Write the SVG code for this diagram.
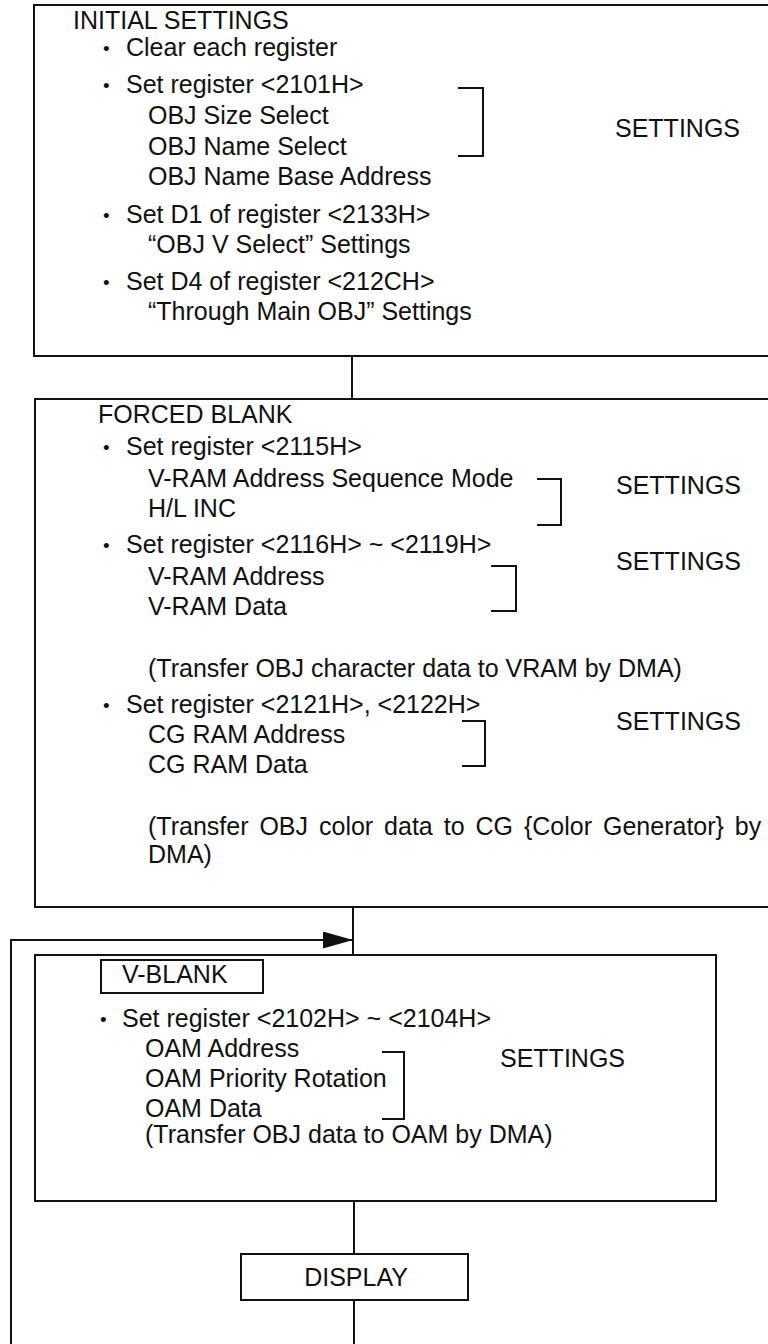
<svg xmlns="http://www.w3.org/2000/svg" width="768" height="1344" viewBox="0 0 768 1344">
<style>
  text { font-family: "Liberation Sans", Arial, sans-serif; font-size: 25px; fill: #111; }
  text.b { font-size: 19px; }
  .box { fill: none; stroke: #111; stroke-width: 2; }
  .ln { fill: none; stroke: #111; stroke-width: 2; }
  .br { fill: none; stroke: #111; stroke-width: 2; }
  .c { text-anchor: middle; }
</style>
<defs>
  <marker id="arr" markerWidth="30" markerHeight="18" refX="30" refY="8.5" orient="auto" markerUnits="userSpaceOnUse">
    <path d="M0,0 L30,8.5 L0,17 Z" fill="#111"/>
  </marker>
</defs>
<rect width="768" height="1344" fill="#fff"/>

<g id="connectors">
  <line class="ln" x1="352" y1="356" x2="352" y2="399"/>
  <line class="ln" x1="353" y1="907" x2="353" y2="955"/>
  <polyline class="ln" points="11,1344 11,940 353,940" marker-end="url(#arr)"/>
  <line class="ln" x1="354" y1="1201" x2="354" y2="1254"/>
  <line class="ln" x1="354" y1="1300" x2="354" y2="1344"/>
</g>

<g id="initial-settings">
  <rect class="box" x="34" y="5" width="780" height="351"/>
  <text x="73" y="29">INITIAL SETTINGS</text>
  <text class="b" x="103" y="55">•</text><text x="126" y="56">Clear each register</text>
  <text class="b" x="103" y="92">•</text><text x="126" y="93">Set register &lt;2101H&gt;</text>
  <text x="148" y="124">OBJ Size Select</text>
  <text x="148" y="155">OBJ Name Select</text>
  <text x="148" y="185">OBJ Name Base Address</text>
  <polyline class="br" points="458,88 483,88 483,156 458,156"/>
  <text x="615" y="137">SETTINGS</text>
  <text class="b" x="103" y="222">•</text><text x="126" y="223">Set D1 of register &lt;2133H&gt;</text>
  <text x="148" y="253">“OBJ V Select” Settings</text>
  <text class="b" x="103" y="289">•</text><text x="126" y="290">Set D4 of register &lt;212CH&gt;</text>
  <text x="148" y="320">“Through Main OBJ” Settings</text>
</g>

<g id="forced-blank">
  <rect class="box" x="35" y="399" width="780" height="508"/>
  <text x="98" y="423">FORCED BLANK</text>
  <text class="b" x="103" y="454">•</text><text x="126" y="455">Set register &lt;2115H&gt;</text>
  <text x="148" y="487">V-RAM Address Sequence Mode</text>
  <text x="148" y="517">H/L INC</text>
  <polyline class="br" points="537,479 561,479 561,525 537,525"/>
  <text x="616" y="494">SETTINGS</text>
  <text class="b" x="103" y="552">•</text><text x="126" y="553">Set register &lt;2116H&gt; ~ &lt;2119H&gt;</text>
  <text x="148" y="585">V-RAM Address</text>
  <text x="148" y="615">V-RAM Data</text>
  <polyline class="br" points="491,566 516,566 516,611 491,611"/>
  <text x="616" y="570">SETTINGS</text>
  <text x="148" y="677">(Transfer OBJ character data to VRAM by DMA)</text>
  <text class="b" x="103" y="712">•</text><text x="126" y="713">Set register &lt;2121H&gt;, &lt;2122H&gt;</text>
  <text x="148" y="743">CG RAM Address</text>
  <text x="148" y="773">CG RAM Data</text>
  <polyline class="br" points="462,721 485,721 485,766 462,766"/>
  <text x="616" y="730">SETTINGS</text>
  <text x="148" y="835" word-spacing="4">(Transfer OBJ color data to CG {Color Generator} by</text>
  <text x="148" y="863">DMA)</text>
</g>

<g id="v-blank">
  <rect class="box" x="35" y="955" width="681" height="246"/>
  <rect class="box" x="101" y="960" width="162" height="33"/>
  <text x="122" y="983">V-BLANK</text>
  <text class="b" x="100" y="1026">•</text><text x="122" y="1027">Set register &lt;2102H&gt; ~ &lt;2104H&gt;</text>
  <text x="145" y="1057">OAM Address</text>
  <text x="145" y="1087">OAM Priority Rotation</text>
  <text x="145" y="1117">OAM Data</text>
  <polyline class="br" points="382,1052 404,1052 404,1119 382,1119"/>
  <text x="500" y="1067">SETTINGS</text>
  <text x="145" y="1143">(Transfer OBJ data to OAM by DMA)</text>
</g>

<g id="display">
  <rect class="box" x="241" y="1254" width="227" height="46"/>
  <text class="c" x="356" y="1286">DISPLAY</text>
</g>
</svg>
